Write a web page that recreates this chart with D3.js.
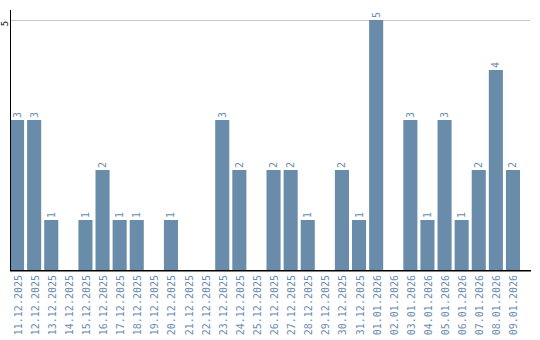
<!DOCTYPE html>
<html>
<head>
<meta charset="utf-8">
<script src="https://cdn.jsdelivr.net/npm/d3@7"></script>
<style>
  body { margin: 0; background: #fff; }
  svg { display: block; }
  text { font-family: "DejaVu Sans Mono", monospace; }
</style>
</head>
<body>
<div id="chart"></div>
<script>
const dates = [
  "11.12.2025", "12.12.2025", "13.12.2025", "14.12.2025", "15.12.2025",
  "16.12.2025", "17.12.2025", "18.12.2025", "19.12.2025", "20.12.2025",
  "21.12.2025", "22.12.2025", "23.12.2025", "24.12.2025", "25.12.2025",
  "26.12.2025", "27.12.2025", "28.12.2025", "29.12.2025", "30.12.2025",
  "31.12.2025", "01.01.2026", "02.01.2026", "03.01.2026", "04.01.2026",
  "05.01.2026", "06.01.2026", "07.01.2026", "08.01.2026", "09.01.2026"
];
const counts = [
  3, 3, 1, 0, 1, 2, 1, 1, 0, 1,
  0, 0, 3, 2, 0, 2, 2, 1, 0, 2,
  1, 5, 0, 3, 1, 3, 1, 2, 4, 2
];
const yTicks = [5];

const width = 540;
const height = 340;
const m = { left: 10, right: 530, top: 20, bottom: 270 };
const barColor = "#6a8cab";
const labelColor = "#6a8cb0";

const svg = d3.select("#chart").append("svg")
  .attr("width", width)
  .attr("height", height);

const x = d3.scaleBand()
  .domain(dates)
  .range([m.left, m.left + dates.length * 17])
  .paddingInner(3 / 17)
  .paddingOuter(0)
  .align(0);

const y = d3.scaleLinear()
  .domain([0, 5])
  .range([m.bottom, m.top]);

// grid
svg.append("g")
  .selectAll("line")
  .data(yTicks)
  .join("line")
  .attr("x1", m.left)
  .attr("x2", m.right)
  .attr("y1", d => y(d) + 0.5)
  .attr("y2", d => y(d) + 0.5)
  .attr("stroke", "#c8c8c8")
  .attr("stroke-width", 1);

// bars
svg.append("g")
  .selectAll("rect")
  .data(dates)
  .join("rect")
  .attr("x", d => x(d))
  .attr("width", x.bandwidth())
  .attr("y", (d, i) => y(counts[i]))
  .attr("height", (d, i) => y(0) - y(counts[i]))
  .attr("fill", barColor);

// value labels
svg.append("g")
  .selectAll("text")
  .data(dates.filter((d, i) => counts[i] > 0))
  .join("text")
  .attr("transform", d => {
    const v = counts[dates.indexOf(d)];
    return `translate(${x(d) + x.bandwidth() / 2 + 3.5},${y(v) - 2}) rotate(-90)`;
  })
  .attr("font-size", 10)
  .attr("fill", labelColor)
  .text(d => counts[dates.indexOf(d)]);

// y axis
svg.append("line")
  .attr("x1", m.left + 0.5).attr("x2", m.left + 0.5)
  .attr("y1", 10).attr("y2", m.bottom + 1)
  .attr("stroke", "#000").attr("stroke-width", 1);

svg.append("g")
  .selectAll("text")
  .data(yTicks)
  .join("text")
  .attr("transform", d => `translate(7.5,${y(d) + 3.5}) rotate(-90)`)
  .attr("text-anchor", "middle")
  .attr("font-size", 9)
  .attr("fill", "#000")
  .text(d => d);

// x axis
svg.append("line")
  .attr("x1", m.left).attr("x2", m.right + 1)
  .attr("y1", m.bottom + 0.75).attr("y2", m.bottom + 0.75)
  .attr("stroke", "#000").attr("stroke-width", 1.5);

svg.append("g")
  .selectAll("text")
  .data(dates)
  .join("text")
  .attr("transform", d => `translate(${x(d) + x.bandwidth() / 2 + 4.5},${m.bottom + 5}) rotate(-90)`)
  .attr("text-anchor", "end")
  .attr("font-size", 10)
  .attr("fill", labelColor)
  .text(d => d);
</script>
</body>
</html>
